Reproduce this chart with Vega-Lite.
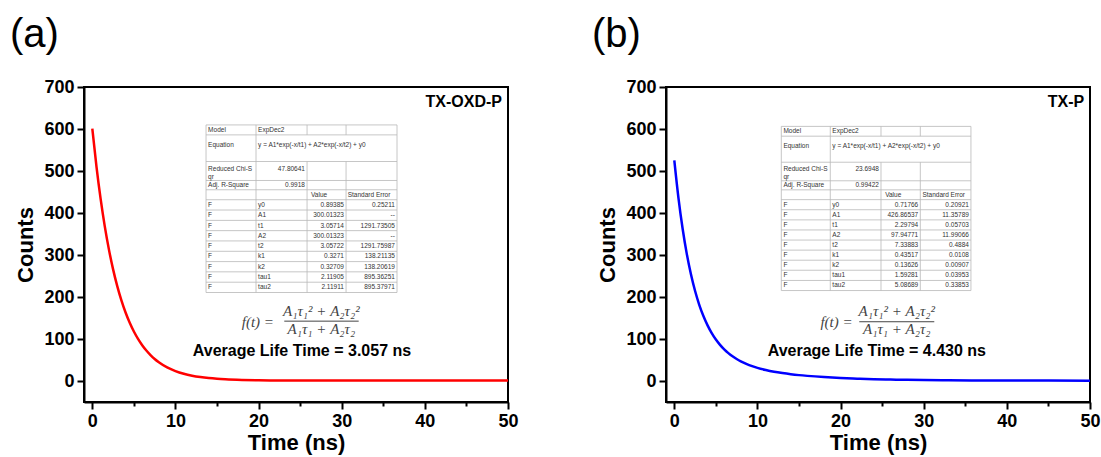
{
  "$schema": "https://vega.github.io/schema/vega-lite/v6.json",
  "background": "white",
  "padding": {"left": 9, "top": 14, "right": 0, "bottom": 5},
  "spacing": 71,
  "config": {
    "view": {"stroke": "black", "strokeWidth": 2},
    "font": "Liberation Sans",
    "axis": {"domainColor": "black", "domainWidth": 2, "tickColor": "black", "tickWidth": 2, "labelFont": "Liberation Sans", "labelFontWeight": "bold", "labelFontSize": 18, "labelColor": "black", "titleFont": "Liberation Sans", "titleFontWeight": "bold", "titleFontSize": 22, "titleColor": "black", "grid": false, "labelFlush": false, "labelOverlap": false},
    "axisX": {"values": [0,5,10,15,20,25,30,35,40,45,50], "labelExpr": "datum.value % 10 === 0 ? datum.label : ''", "tickSize": {"condition": {"test": "datum.value % 10 !== 0", "value": 4}, "value": 7}, "labelPadding": 3, "titlePadding": 2},
    "axisY": {"values": [0,50,100,150,200,250,300,350,400,450,500,550,600,650,700], "labelExpr": "datum.value % 100 === 0 ? datum.label : ''", "tickSize": {"condition": {"test": "datum.value % 100 !== 0", "value": 4}, "value": 7}, "labelPadding": 3, "titlePadding": 6},
    "title": {"font": "Liberation Sans", "fontWeight": "normal", "fontSize": 40, "anchor": "start", "frame": "group", "dx": -74, "offset": 23, "color": "black"}
  },
  "datasets": {
    "curveA": [
      {"x":0,"y":600.9},{"x":0.5,"y":510.4},{"x":1,"y":433.5},{"x":1.5,"y":368.2},{"x":2,"y":312.8},{"x":2.5,"y":265.8},{"x":3,"y":225.8},{"x":3.5,"y":191.9},{"x":4,"y":163.1},{"x":4.5,"y":138.6},{"x":5,"y":117.8},{"x":5.5,"y":100.2},{"x":6,"y":85.2},{"x":6.5,"y":72.5},{"x":7,"y":61.7},{"x":7.5,"y":52.5},{"x":8,"y":44.7},{"x":9,"y":32.5},{"x":10,"y":23.7},{"x":11,"y":17.3},{"x":12,"y":12.7},{"x":13,"y":9.4},{"x":14,"y":7.0},{"x":15,"y":5.3},{"x":16,"y":4.1},{"x":18,"y":2.6},{"x":20,"y":1.8},{"x":22,"y":1.3},{"x":25,"y":1.1},{"x":30,"y":0.95},{"x":35,"y":0.9},{"x":40,"y":0.9},{"x":45,"y":0.9},{"x":50,"y":0.9}
    ],
    "curveB": [
      {"x":0,"y":525.5},{"x":0.5,"y":435.6},{"x":1,"y":362.4},{"x":1.5,"y":302.7},{"x":2,"y":254.1},{"x":2.5,"y":214.2},{"x":3,"y":181.5},{"x":3.5,"y":154.6},{"x":4,"y":132.4},{"x":4.5,"y":114.0},{"x":5,"y":98.7},{"x":5.5,"y":86.0},{"x":6,"y":75.3},{"x":6.5,"y":66.3},{"x":7,"y":58.7},{"x":7.5,"y":52.3},{"x":8,"y":46.7},{"x":9,"y":37.9},{"x":10,"y":31.3},{"x":11,"y":26.2},{"x":12,"y":22.1},{"x":13,"y":18.9},{"x":14,"y":16.2},{"x":15,"y":14.0},{"x":16,"y":12.2},{"x":18,"y":9.3},{"x":20,"y":7.1},{"x":22,"y":5.6},{"x":24,"y":4.4},{"x":26,"y":3.5},{"x":28,"y":2.9},{"x":30,"y":2.3},{"x":33,"y":1.8},{"x":36,"y":1.4},{"x":40,"y":1.1},{"x":45,"y":0.9},{"x":50,"y":0.8}
    ],
    "linesA": [
      {"x":13.68,"x2":36.65,"y":609.7,"y2":609.7},{"x":13.68,"x2":36.65,"y":586.0,"y2":586.0},{"x":13.68,"x2":36.65,"y":522.6,"y2":522.6},{"x":13.68,"x2":36.65,"y":477.4,"y2":477.4},{"x":13.68,"x2":36.65,"y":455.3,"y2":455.3},{"x":13.68,"x2":36.65,"y":431.6,"y2":431.6},{"x":13.68,"x2":36.65,"y":407.1,"y2":407.1},{"x":13.68,"x2":36.65,"y":382.4,"y2":382.4},{"x":13.68,"x2":36.65,"y":358.0,"y2":358.0},{"x":13.68,"x2":36.65,"y":333.5,"y2":333.5},{"x":13.68,"x2":36.65,"y":308.8,"y2":308.8},{"x":13.68,"x2":36.65,"y":284.3,"y2":284.3},{"x":13.68,"x2":36.65,"y":259.9,"y2":259.9},{"x":13.68,"x2":36.65,"y":235.2,"y2":235.2},{"x":13.68,"x2":36.65,"y":210.7,"y2":210.7},
      {"x":13.68,"x2":13.68,"y":609.7,"y2":210.7},{"x":19.69,"x2":19.69,"y":609.7,"y2":210.7},{"x":25.83,"x2":25.83,"y":609.7,"y2":586.0},{"x":25.83,"x2":25.83,"y":522.6,"y2":210.7},{"x":30.52,"x2":30.52,"y":609.7,"y2":586.0},{"x":30.52,"x2":30.52,"y":522.6,"y2":210.7},{"x":36.65,"x2":36.65,"y":609.7,"y2":210.7}
    ],
    "linesB": [
      {"x":12.87,"x2":35.68,"y":606.2,"y2":606.2},{"x":12.87,"x2":35.68,"y":582.9,"y2":582.9},{"x":12.87,"x2":35.68,"y":520.9,"y2":520.9},{"x":12.87,"x2":35.68,"y":476.7,"y2":476.7},{"x":12.87,"x2":35.68,"y":455.1,"y2":455.1},{"x":12.87,"x2":35.68,"y":431.8,"y2":431.8},{"x":12.87,"x2":35.68,"y":407.8,"y2":407.8},{"x":12.87,"x2":35.68,"y":383.6,"y2":383.6},{"x":12.87,"x2":35.68,"y":359.6,"y2":359.6},{"x":12.87,"x2":35.68,"y":335.6,"y2":335.6},{"x":12.87,"x2":35.68,"y":311.6,"y2":311.6},{"x":12.87,"x2":35.68,"y":287.6,"y2":287.6},{"x":12.87,"x2":35.68,"y":263.7,"y2":263.7},{"x":12.87,"x2":35.68,"y":239.4,"y2":239.4},{"x":12.87,"x2":35.68,"y":215.4,"y2":215.4},
      {"x":12.87,"x2":12.87,"y":606.2,"y2":215.4},{"x":18.76,"x2":18.76,"y":606.2,"y2":215.4},{"x":24.86,"x2":24.86,"y":606.2,"y2":582.9},{"x":24.86,"x2":24.86,"y":520.9,"y2":215.4},{"x":29.59,"x2":29.59,"y":606.2,"y2":582.9},{"x":29.59,"x2":29.59,"y":520.9,"y2":215.4},{"x":35.68,"x2":35.68,"y":606.2,"y2":215.4}
    ],
    "textAL": [
      {"x":13.93,"y":597.9,"t":"Model"},{"x":19.94,"y":597.9,"t":"ExpDec2"},
      {"x":13.93,"y":562,"t":"Equation"},{"x":19.94,"y":562,"t":"y = A1*exp(-x/t1) + A2*exp(-x/t2) + y0"},
      {"x":13.93,"y":504.5,"t":"Reduced Chi-S"},{"x":13.93,"y":486.9,"t":"qr"},
      {"x":13.93,"y":466.4,"t":"Adj. R-Square"},
      {"x":26.3,"y":443.5,"t":"Value"},{"x":30.72,"y":443.5,"t":"Standard Error"},
      {"x":13.93,"y":419.4,"t":"F"},{"x":19.94,"y":419.4,"t":"y0"},
      {"x":13.93,"y":394.8,"t":"F"},{"x":19.94,"y":394.8,"t":"A1"},
      {"x":13.93,"y":370.2,"t":"F"},{"x":19.94,"y":370.2,"t":"t1"},
      {"x":13.93,"y":345.7,"t":"F"},{"x":19.94,"y":345.7,"t":"A2"},
      {"x":13.93,"y":321.2,"t":"F"},{"x":19.94,"y":321.2,"t":"t2"},
      {"x":13.93,"y":296.6,"t":"F"},{"x":19.94,"y":296.6,"t":"k1"},
      {"x":13.93,"y":272.1,"t":"F"},{"x":19.94,"y":272.1,"t":"k2"},
      {"x":13.93,"y":247.6,"t":"F"},{"x":19.94,"y":247.6,"t":"tau1"},
      {"x":13.93,"y":223.0,"t":"F"},{"x":19.94,"y":223.0,"t":"tau2"}
    ],
    "textAR": [
      {"x":25.58,"y":504.5,"t":"47.80641"},{"x":25.58,"y":466.4,"t":"0.9918"},
      {"x":30.27,"y":419.4,"t":"0.89385"},{"x":36.4,"y":419.4,"t":"0.25211"},
      {"x":30.27,"y":394.8,"t":"300.01323"},{"x":36.4,"y":394.8,"t":"--"},
      {"x":30.27,"y":370.2,"t":"3.05714"},{"x":36.4,"y":370.2,"t":"1291.73505"},
      {"x":30.27,"y":345.7,"t":"300.01323"},{"x":36.4,"y":345.7,"t":"--"},
      {"x":30.27,"y":321.2,"t":"3.05722"},{"x":36.4,"y":321.2,"t":"1291.75987"},
      {"x":30.27,"y":296.6,"t":"0.3271"},{"x":36.4,"y":296.6,"t":"138.21135"},
      {"x":30.27,"y":272.1,"t":"0.32709"},{"x":36.4,"y":272.1,"t":"138.20619"},
      {"x":30.27,"y":247.6,"t":"2.11905"},{"x":36.4,"y":247.6,"t":"895.36251"},
      {"x":30.27,"y":223.0,"t":"2.11911"},{"x":36.4,"y":223.0,"t":"895.37971"}
    ],
    "textBL": [
      {"x":13.12,"y":594.6,"t":"Model"},{"x":19.01,"y":594.6,"t":"ExpDec2"},
      {"x":13.12,"y":559.6,"t":"Equation"},{"x":19.01,"y":559.6,"t":"y = A1*exp(-x/t1) + A2*exp(-x/t2) + y0"},
      {"x":13.12,"y":503.7,"t":"Reduced Chi-S"},{"x":13.12,"y":486.0,"t":"qr"},
      {"x":13.12,"y":465.9,"t":"Adj. R-Square"},
      {"x":25.36,"y":443.5,"t":"Value"},{"x":29.84,"y":443.5,"t":"Standard Error"},
      {"x":13.12,"y":419.8,"t":"F"},{"x":19.01,"y":419.8,"t":"y0"},
      {"x":13.12,"y":395.7,"t":"F"},{"x":19.01,"y":395.7,"t":"A1"},
      {"x":13.12,"y":371.6,"t":"F"},{"x":19.01,"y":371.6,"t":"t1"},
      {"x":13.12,"y":347.6,"t":"F"},{"x":19.01,"y":347.6,"t":"A2"},
      {"x":13.12,"y":323.6,"t":"F"},{"x":19.01,"y":323.6,"t":"t2"},
      {"x":13.12,"y":299.6,"t":"F"},{"x":19.01,"y":299.6,"t":"k1"},
      {"x":13.12,"y":275.7,"t":"F"},{"x":19.01,"y":275.7,"t":"k2"},
      {"x":13.12,"y":251.6,"t":"F"},{"x":19.01,"y":251.6,"t":"tau1"},
      {"x":13.12,"y":227.4,"t":"F"},{"x":19.01,"y":227.4,"t":"tau2"}
    ],
    "textBR": [
      {"x":24.61,"y":503.7,"t":"23.6948"},{"x":24.61,"y":465.9,"t":"0.99422"},
      {"x":29.34,"y":419.8,"t":"0.71766"},{"x":35.43,"y":419.8,"t":"0.20921"},
      {"x":29.34,"y":395.7,"t":"426.86537"},{"x":35.43,"y":395.7,"t":"11.35789"},
      {"x":29.34,"y":371.6,"t":"2.29794"},{"x":35.43,"y":371.6,"t":"0.05703"},
      {"x":29.34,"y":347.6,"t":"97.94771"},{"x":35.43,"y":347.6,"t":"11.99066"},
      {"x":29.34,"y":323.6,"t":"7.33883"},{"x":35.43,"y":323.6,"t":"0.4884"},
      {"x":29.34,"y":299.6,"t":"0.43517"},{"x":35.43,"y":299.6,"t":"0.0108"},
      {"x":29.34,"y":275.7,"t":"0.13626"},{"x":35.43,"y":275.7,"t":"0.00907"},
      {"x":29.34,"y":251.6,"t":"1.59281"},{"x":35.43,"y":251.6,"t":"0.03953"},
      {"x":29.34,"y":227.4,"t":"5.08689"},{"x":35.43,"y":227.4,"t":"0.33853"}
    ]
  },
  "hconcat": [
    {
      "width": 424, "height": 315,
      "title": {"text": "(a)"},
      "encoding": {
        "x": {"field": "x", "type": "quantitative", "title": "Time (ns)", "scale": {"domain": [-1, 50], "nice": false, "zero": false}},
        "y": {"field": "y", "type": "quantitative", "title": "Counts", "scale": {"domain": [-50, 700], "nice": false, "zero": false}}
      },
      "layer": [
        {
          "data": {"name": "curveA"},
          "mark": {"type": "line", "color": "#ff0000", "strokeWidth": 2.5, "interpolate": "monotone"}
        },
        {
          "data": {"name": "linesA"},
          "mark": {"type": "rule", "color": "#b8b8b8", "strokeWidth": 0.8},
          "encoding": {"x2": {"field": "x2", "title": "Time (ns)"}, "y2": {"field": "y2", "title": "Counts"}}
        },
        {
          "data": {"name": "textAL"},
          "mark": {"type": "text", "align": "left", "baseline": "middle", "fontSize": 6.5, "color": "#333333", "font": "Liberation Sans"},
          "encoding": {"text": {"field": "t"}}
        },
        {
          "data": {"name": "textAR"},
          "mark": {"type": "text", "align": "right", "baseline": "middle", "fontSize": 6.5, "color": "#333333", "font": "Liberation Sans"},
          "encoding": {"text": {"field": "t"}}
        },
        {
          "data": {"values": [{"x": 49.28, "y": 664.4, "t": "TX-OXD-P"}]},
          "mark": {"type": "text", "align": "right", "baseline": "middle", "fontSize": 16, "fontWeight": "bold", "color": "black", "font": "Liberation Sans"},
          "encoding": {"text": {"field": "t"}}
        },
        {
          "data": {"values": [{"x": 25.22, "y": 71.3, "t": "Average Life Time = 3.057 ns"}]},
          "mark": {"type": "text", "align": "center", "baseline": "middle", "fontSize": 16, "fontWeight": "bold", "color": "black", "font": "Liberation Sans"},
          "encoding": {"text": {"field": "t"}}
        },
        {
          "data": {"values": [{"x": 27.55, "y": 166.3, "t": "A₁τ₁² + A₂τ₂²"}, {"x": 27.55, "y": 122.8, "t": "A₁τ₁ + A₂τ₂"}]},
          "mark": {"type": "text", "align": "center", "baseline": "middle", "fontSize": 15, "fontStyle": "italic", "color": "#444444", "font": "Liberation Serif"},
          "encoding": {"text": {"field": "t"}}
        },
        {
          "data": {"values": [{"x": 21.85, "y": 141.5, "t": "f(t) ="}]},
          "mark": {"type": "text", "align": "right", "baseline": "middle", "fontSize": 15, "fontStyle": "italic", "color": "#444444", "font": "Liberation Serif"},
          "encoding": {"text": {"field": "t"}}
        },
        {
          "data": {"values": [{"x": 23.09, "x2": 32.04, "y": 142.5}]},
          "mark": {"type": "rule", "color": "#444444", "strokeWidth": 1},
          "encoding": {"x2": {"field": "x2", "title": "Time (ns)"}}
        }
      ]
    },
    {
      "width": 424, "height": 315,
      "title": {"text": "(b)"},
      "encoding": {
        "x": {"field": "x", "type": "quantitative", "title": "Time (ns)", "scale": {"domain": [-1, 50], "nice": false, "zero": false}},
        "y": {"field": "y", "type": "quantitative", "title": "Counts", "scale": {"domain": [-50, 700], "nice": false, "zero": false}}
      },
      "layer": [
        {
          "data": {"name": "curveB"},
          "mark": {"type": "line", "color": "#0000ff", "strokeWidth": 2.5, "interpolate": "monotone"}
        },
        {
          "data": {"name": "linesB"},
          "mark": {"type": "rule", "color": "#b8b8b8", "strokeWidth": 0.8},
          "encoding": {"x2": {"field": "x2", "title": "Time (ns)"}, "y2": {"field": "y2", "title": "Counts"}}
        },
        {
          "data": {"name": "textBL"},
          "mark": {"type": "text", "align": "left", "baseline": "middle", "fontSize": 6.5, "color": "#333333", "font": "Liberation Sans"},
          "encoding": {"text": {"field": "t"}}
        },
        {
          "data": {"name": "textBR"},
          "mark": {"type": "text", "align": "right", "baseline": "middle", "fontSize": 6.5, "color": "#333333", "font": "Liberation Sans"},
          "encoding": {"text": {"field": "t"}}
        },
        {
          "data": {"values": [{"x": 49.31, "y": 664.4, "t": "TX-P"}]},
          "mark": {"type": "text", "align": "right", "baseline": "middle", "fontSize": 16, "fontWeight": "bold", "color": "black", "font": "Liberation Sans"},
          "encoding": {"text": {"field": "t"}}
        },
        {
          "data": {"values": [{"x": 24.36, "y": 71.3, "t": "Average Life Time = 4.430 ns"}]},
          "mark": {"type": "text", "align": "center", "baseline": "middle", "fontSize": 16, "fontWeight": "bold", "color": "black", "font": "Liberation Sans"},
          "encoding": {"text": {"field": "t"}}
        },
        {
          "data": {"values": [{"x": 26.76, "y": 166.3, "t": "A₁τ₁² + A₂τ₂²"}, {"x": 26.76, "y": 122.8, "t": "A₁τ₁ + A₂τ₂"}]},
          "mark": {"type": "text", "align": "center", "baseline": "middle", "fontSize": 15, "fontStyle": "italic", "color": "#444444", "font": "Liberation Serif"},
          "encoding": {"text": {"field": "t"}}
        },
        {
          "data": {"values": [{"x": 21.45, "y": 141.5, "t": "f(t) ="}]},
          "mark": {"type": "text", "align": "right", "baseline": "middle", "fontSize": 15, "fontStyle": "italic", "color": "#444444", "font": "Liberation Serif"},
          "encoding": {"text": {"field": "t"}}
        },
        {
          "data": {"values": [{"x": 22.25, "x2": 31.27, "y": 141.1}]},
          "mark": {"type": "rule", "color": "#444444", "strokeWidth": 1},
          "encoding": {"x2": {"field": "x2", "title": "Time (ns)"}}
        }
      ]
    }
  ]
}
